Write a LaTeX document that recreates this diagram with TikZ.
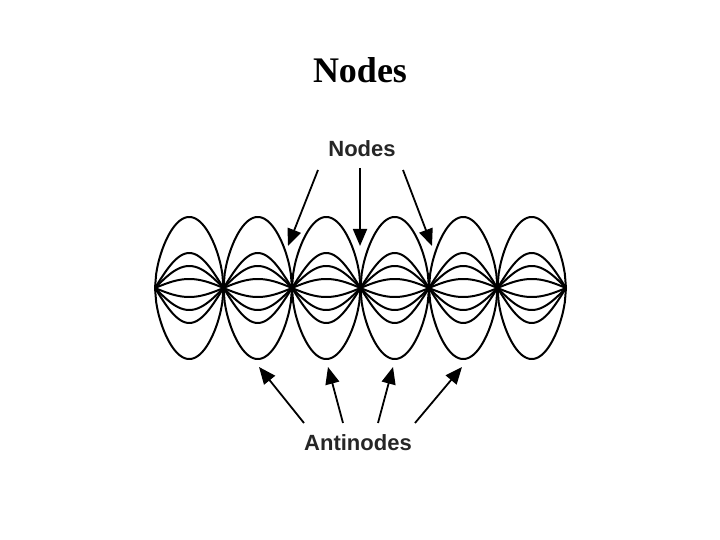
\documentclass[tikz,border=0pt]{standalone}
\usepackage{fontspec}
\setmainfont{Liberation Serif}
\newfontfamily\lab{Liberation Sans}
\usetikzlibrary{arrows.meta}
\begin{document}
\begin{tikzpicture}[x=1pt,y=-1pt,
  wave/.style={line width=2pt},
  arr/.style={line width=1.8pt,-{Triangle[length=17pt,width=14pt]}},
  lbl/.style={font=\lab\bfseries\fontsize{22}{26}\selectfont,text=black!85}]
\useasboundingbox (0,0) rectangle (720,540);
\node[font=\bfseries\fontsize{36}{40}\selectfont] (title) at (360,70) {Nodes};
\foreach \i in {0,...,5}{
  \pgfmathsetmacro\xa{155+68.5*\i}
  \foreach \s in {1,-1}{
    \draw[wave,domain=0:180,samples=60] plot ({\xa+68.5*\x/180},{288-\s*71*sin(\x)^0.55});
    \foreach \A in {35,22,9}
      \draw[wave,domain=0:180,samples=40] plot ({\xa+68.5*\x/180},{288-\s*\A*sin(\x)});
  }
}
\node[lbl] (nodes) at (362,149) {Nodes};
\node[lbl] (anti) at (358,443) {Antinodes};
\coordinate (n1) at (288,246); \coordinate (n2) at (360,246); \coordinate (n3) at (432,246);
\coordinate (a1) at (259,367); \coordinate (a2) at (328,367); \coordinate (a3) at (393,367); \coordinate (a4) at (462,367);
\draw[arr] (318,170) -- (n1);
\draw[arr] (360,168) -- (n2);
\draw[arr] (403,170) -- (n3);
\draw[arr] (304,423) -- (a1);
\draw[arr] (343,423) -- (a2);
\draw[arr] (378,423) -- (a3);
\draw[arr] (415,423) -- (a4);
\end{tikzpicture}
\end{document}
